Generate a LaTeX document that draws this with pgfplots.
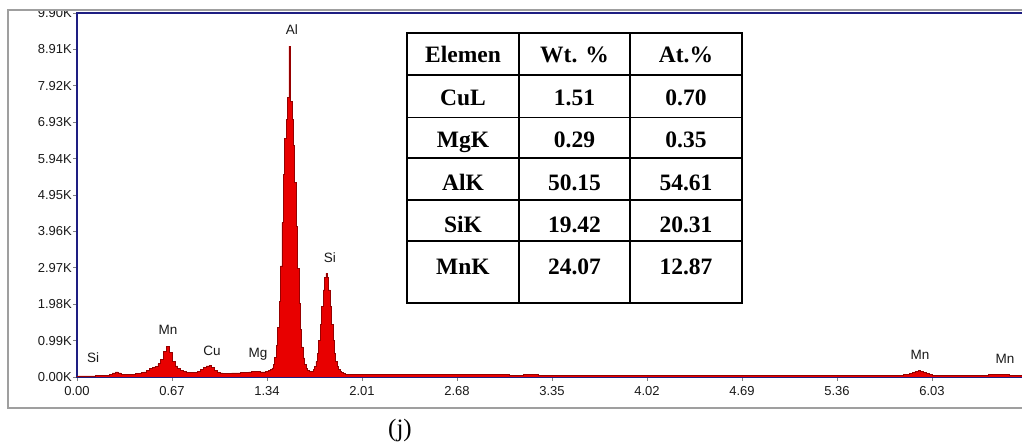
\documentclass[border=0pt]{standalone}
\usepackage{fontspec}
\setmainfont{Liberation Sans}
\newfontfamily\seriffont{Liberation Serif}
\usepackage{pgfplots}
\pgfplotsset{compat=1.18}
\definecolor{navyc}{RGB}{30,30,130}
\definecolor{peakred}{RGB}{232,0,0}
\definecolor{darkred}{RGB}{150,0,0}
\begin{document}
\begin{tikzpicture}
\useasboundingbox (-77pt,-69pt) rectangle (945pt,377pt);
\begin{scope}
\clip (-69pt,-31pt) rectangle (945pt,367pt);
\begin{axis}[
  at={(0pt,0pt)}, anchor=south west,
  width=950pt, height=364pt, scale only axis,
  xmin=0, xmax=6.70, ymin=0, ymax=9.9,
  axis line style={draw=navyc, line width=1.2pt},
  tick style={gray, line width=0.6pt},
  tick align=outside, major tick length=4pt,
  xtick pos=lower, ytick pos=left,
  xtick={0,0.67,1.34,2.01,2.68,3.35,4.02,4.69,5.36,6.03},
  xticklabels={0.00,0.67,1.34,2.01,2.68,3.35,4.02,4.69,5.36,6.03},
  ytick={0,0.99,1.98,2.97,3.96,4.95,5.94,6.93,7.92,8.91,9.90},
  yticklabels={0.00K,0.99K,1.98K,2.97K,3.96K,4.95K,5.94K,6.93K,7.92K,8.91K,9.90K},
  ticklabel style={font=\fontsize{13}{14}\selectfont, text=black!90},
  yticklabel style={inner sep=1pt},
  xticklabel style={inner sep=2pt, yshift=-3pt},
  clip=true,
]
\addplot[const plot mark mid, fill=peakred, draw=darkred, line width=0.6pt] table {
x y
0.00 0.02
0.02 0.03
0.04 0.03
0.06 0.03
0.08 0.03
0.10 0.03
0.12 0.03
0.14 0.04
0.16 0.04
0.18 0.04
0.20 0.05
0.22 0.05
0.24 0.07
0.26 0.11
0.28 0.14
0.30 0.11
0.32 0.07
0.34 0.06
0.36 0.06
0.38 0.07
0.40 0.08
0.42 0.09
0.44 0.10
0.46 0.12
0.48 0.14
0.50 0.17
0.52 0.24
0.54 0.27
0.56 0.29
0.58 0.36
0.60 0.48
0.62 0.70
0.64 0.84
0.66 0.66
0.68 0.42
0.70 0.30
0.72 0.24
0.74 0.19
0.76 0.16
0.78 0.13
0.80 0.12
0.82 0.12
0.84 0.13
0.86 0.15
0.88 0.20
0.90 0.26
0.92 0.30
0.94 0.31
0.96 0.26
0.98 0.18
1.00 0.13
1.02 0.11
1.04 0.10
1.06 0.10
1.08 0.10
1.10 0.11
1.12 0.11
1.14 0.11
1.16 0.12
1.18 0.12
1.20 0.13
1.22 0.14
1.24 0.15
1.26 0.16
1.28 0.15
1.30 0.14
1.32 0.14
1.34 0.15
1.36 0.17
1.37 0.20
1.38 0.25
1.39 0.35
1.40 0.54
1.41 0.85
1.42 1.35
1.43 2.06
1.44 3.02
1.45 4.20
1.46 5.52
1.47 6.50
1.48 7.00
1.49 7.60
1.50 9.00
1.51 7.50
1.52 7.00
1.53 6.30
1.54 5.30
1.55 4.10
1.56 2.95
1.57 2.00
1.58 1.30
1.59 0.82
1.60 0.52
1.61 0.34
1.62 0.24
1.63 0.19
1.64 0.16
1.65 0.15
1.66 0.16
1.67 0.20
1.68 0.28
1.69 0.42
1.70 0.65
1.71 0.99
1.72 1.43
1.73 1.91
1.74 2.37
1.75 2.70
1.76 2.82
1.77 2.70
1.78 2.37
1.79 1.91
1.80 1.43
1.81 0.99
1.82 0.65
1.83 0.42
1.84 0.28
1.85 0.20
1.86 0.15
1.87 0.12
1.88 0.10
1.89 0.09
1.90 0.08
1.95 0.08
2.00 0.08
2.10 0.07
2.20 0.07
2.30 0.07
2.40 0.06
2.50 0.07
2.60 0.06
2.70 0.06
2.80 0.06
2.90 0.06
3.00 0.06
3.10 0.05
3.20 0.06
3.30 0.05
3.40 0.05
3.50 0.05
3.60 0.05
3.70 0.05
3.80 0.05
3.90 0.05
4.00 0.05
4.10 0.04
4.20 0.05
4.30 0.04
4.40 0.04
4.50 0.04
4.60 0.04
4.70 0.04
4.80 0.04
4.90 0.04
5.00 0.04
5.10 0.04
5.20 0.04
5.30 0.04
5.40 0.04
5.50 0.04
5.60 0.04
5.70 0.04
5.75 0.04
5.80 0.05
5.82 0.05
5.84 0.06
5.86 0.07
5.88 0.09
5.90 0.12
5.92 0.15
5.94 0.17
5.96 0.16
5.98 0.13
6.00 0.10
6.02 0.07
6.04 0.05
6.06 0.04
6.10 0.04
6.20 0.04
6.30 0.04
6.35 0.04
6.40 0.05
6.45 0.06
6.50 0.07
6.55 0.06
6.60 0.05
6.65 0.04
6.70 0.04
} \closedcycle;
\begin{scope}[every node/.style={font=\fontsize{13.5}{14}\selectfont, text=black!90}]
\node at (axis cs:1.516,9.44) {Al};
\node at (axis cs:1.784,3.24) {Si};
\node at (axis cs:0.642,1.28) {Mn};
\node at (axis cs:0.952,0.71) {Cu};
\node at (axis cs:1.276,0.63) {Mg};
\node at (axis cs:0.113,0.52) {Si};
\node at (axis cs:5.945,0.60) {Mn};
\node at (axis cs:6.545,0.49) {Mn};
\end{scope}
\end{axis}
\end{scope}
\draw[gray!75, line width=1.5pt] (-69pt,-31pt) rectangle (960pt,367pt);
% composition table
\begin{scope}[line width=1.1pt]
\fill[white] (330pt,74pt) rectangle (665pt,344pt);
\draw (330pt,74pt) rectangle (665pt,344pt);
\draw (442pt,74pt) -- (442pt,344pt);
\draw (553pt,74pt) -- (553pt,344pt);
\draw (330pt,302pt) -- (665pt,302pt);
\draw (330pt,259.5pt) -- (665pt,259.5pt);
\draw (330pt,219pt) -- (665pt,219pt);
\draw (330pt,177pt) -- (665pt,177pt);
\draw (330pt,136pt) -- (665pt,136pt);
\end{scope}
\begin{scope}[every node/.style={font=\seriffont\bfseries\fontsize{23.5}{25}\selectfont, text height=16pt, text depth=0pt, inner sep=0pt}]
\node at (386pt,322pt) {Elemen};
\node at (497.5pt,322pt) {Wt. \%};
\node at (609pt,322pt) {At.\%};
\node at (386pt,279pt) {CuL};
\node at (497.5pt,279pt) {1.51};
\node at (609pt,279pt) {0.70};
\node at (386pt,237pt) {MgK};
\node at (497.5pt,237pt) {0.29};
\node at (609pt,237pt) {0.35};
\node at (386pt,194pt) {AlK};
\node at (497.5pt,194pt) {50.15};
\node at (609pt,194pt) {54.61};
\node at (386pt,152pt) {SiK};
\node at (497.5pt,152pt) {19.42};
\node at (609pt,152pt) {20.31};
\node at (386pt,110pt) {MnK};
\node at (497.5pt,110pt) {24.07};
\node at (609pt,110pt) {12.87};
\end{scope}
\node[font=\seriffont\fontsize{25}{27}\selectfont] at (323pt,-53pt) {(j)};
\end{tikzpicture}
\end{document}
